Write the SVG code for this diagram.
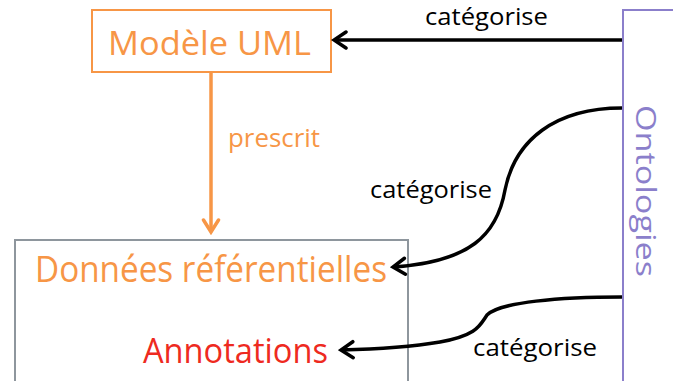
<svg xmlns="http://www.w3.org/2000/svg" width="673" height="381" viewBox="0 0 673 381">
<style>
  .lbl { font-family: "Open Sans", "Noto Sans", "Liberation Sans", sans-serif; }
  .cat { font-size: 24px; fill: #000; }
  .orange { fill: #F79646; }
  .conn { fill: none; stroke: #000; stroke-width: 3.5; }
</style>
<defs>
  <marker id="ahBlack" viewBox="-15 -11 18 22" refX="0" refY="0" markerWidth="18" markerHeight="22" markerUnits="userSpaceOnUse" orient="auto">
    <path d="M-12,-8 L0,0 L-12,8" fill="none" stroke="#000" stroke-width="3.5" stroke-linecap="round" stroke-linejoin="miter"/>
  </marker>
  <marker id="ahOrange" viewBox="-15 -11 18 22" refX="0" refY="0" markerWidth="18" markerHeight="22" markerUnits="userSpaceOnUse" orient="auto">
    <path d="M-12,-7.5 L0,0 L-12,7.5" fill="none" stroke="#F79646" stroke-width="3.5" stroke-linecap="round"/>
  </marker>
</defs>

<g id="node-modele">
  <rect x="92" y="10" width="239" height="62" fill="#fff" stroke="#F79646" stroke-width="2"/>
  <text class="lbl orange" x="108" y="55" font-size="32" textLength="203" lengthAdjust="spacingAndGlyphs">Modèle UML</text>
</g>

<g id="node-donnees">
  <rect x="15" y="240" width="393" height="150" fill="#fff" stroke="#8E969D" stroke-width="2"/>
  <text class="lbl orange" x="35" y="282" font-size="37" textLength="352" lengthAdjust="spacingAndGlyphs">Données référentielles</text>
  <text class="lbl" x="143" y="363" font-size="35" fill="#EE2A1F" textLength="185" lengthAdjust="spacingAndGlyphs">Annotations</text>
</g>

<g id="node-ontologies">
  <rect x="623" y="10" width="60" height="380" fill="#fff" stroke="#8B7FCB" stroke-width="2"/>
  <text class="lbl" transform="translate(636,105) rotate(90)" x="0" y="0" font-size="27" fill="#8B7FCB" textLength="172" lengthAdjust="spacingAndGlyphs">Ontologies</text>
</g>

<g id="connectors">
  <line x1="211" y1="73" x2="211" y2="232" stroke="#F79646" stroke-width="3.5" marker-end="url(#ahOrange)"/>
  <text class="lbl orange" x="228" y="147" font-size="26" textLength="92" lengthAdjust="spacingAndGlyphs">prescrit</text>

  <path class="conn" d="M622,40 L334,40" marker-end="url(#ahBlack)"/>
  <text class="lbl cat" x="425" y="25" textLength="123" lengthAdjust="spacingAndGlyphs">catégorise</text>

  <path class="conn" d="M622,108 C555,108 515,140 505,190 C497,235 470,262 393,267" marker-end="url(#ahBlack)"/>
  <text class="lbl cat" x="370" y="198" textLength="122" lengthAdjust="spacingAndGlyphs">catégorise</text>

  <path class="conn" d="M622,297 C560,297 500,302 487,315 C480,325 478,335 440,342 C410,347 380,349 341,350" marker-end="url(#ahBlack)"/>
  <text class="lbl cat" x="473" y="356" textLength="124" lengthAdjust="spacingAndGlyphs">catégorise</text>
</g>
</svg>
